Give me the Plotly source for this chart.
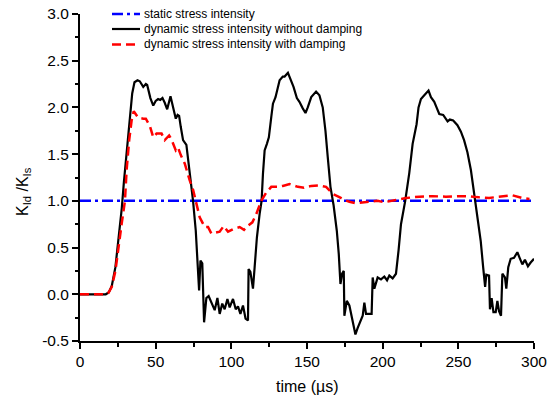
import plotly.graph_objects as go

# ---------------- data ----------------
static_t = [0, 300]
static_k = [1.0, 1.0]

nodamp_t = [0, 10, 17, 19, 21, 23.4, 25.7, 27.6, 29, 31, 33, 34.5, 36, 38, 39.5, 41.8, 43.5, 44.4,
            46.5, 48.4, 50, 51.6, 53, 54.5, 56, 57.6, 59.8, 61.5, 63.3, 64.5, 65.5, 66.6, 68.1, 70.3,
            72.5, 74.7, 76.5, 78.7, 79.6, 80.8, 82, 83.5, 85, 86.8, 89, 90.8, 92.3, 94, 95.6, 97.4,
            98.9, 101.1, 102.9, 104.4, 106, 107.7, 109.4, 111, 111.4, 112.6, 114.3, 115.4, 116.9,
            118.7, 120, 120.9, 122, 123.5, 124.8, 126.4, 127.5, 129.2, 130.8, 131.9, 134, 135.2,
            137.4, 138.9, 141.1, 143.3, 145, 147.2, 149, 150.5, 152.8, 156, 158.2, 160.4, 162.2,
            163.7, 165.5, 167.6, 169.7, 171, 172.1, 173.2, 174.3, 174.7, 176.3, 178, 179.6, 182,
            183.5, 185.7, 186.8, 187.9, 189, 192.7, 193.4, 194.5, 196.7, 198.9, 201.1, 202.9, 204.4,
            206.6, 208.8, 210.5, 212.1, 214.9, 217.6, 219.8, 220.9, 222.4, 223.7, 225.3, 227.5,
            230.3, 231.9, 234.1, 235.6, 237.4, 240, 241.4, 242.9, 244.4, 246.6, 249.4, 251.7, 253.8,
            256, 258.3, 260.4, 262.6, 264.8, 266.4, 267.7, 268.5, 270.3, 270.9, 272, 273.2, 274.7,
            275.8, 276.9, 278.2, 279.1, 280.8, 281.7, 283, 284.6, 286.8, 289, 290.5, 292.3, 294,
            296, 297.8, 300]
nodamp_k = [0, 0, 0.0, 0.02, 0.09, 0.29, 0.6, 0.92, 1.2, 1.55, 1.9, 2.15, 2.27, 2.29, 2.28, 2.22, 2.25, 2.24,
            2.1, 2.02, 2.07, 2.09, 2.08, 2.1, 2.05, 1.98, 2.12, 2.0, 1.88, 1.92, 1.91, 1.79, 1.65, 1.6,
            1.3, 1.0, 0.68, 0.04, 0.36, 0.33, -0.30, -0.04, -0.02, -0.09, -0.17, -0.04, -0.21, -0.10, -0.16, -0.05,
            -0.14, -0.05, -0.16, -0.13, -0.21, -0.12, -0.26, -0.28, 0.27, 0.24, 0.06, 0.29, 0.61,
            0.86, 1.0, 1.29, 1.54, 1.61, 1.68, 1.90, 2.04, 2.11, 2.20, 2.29, 2.33, 2.33,
            2.37, 2.31, 2.22, 2.10, 2.06, 1.99, 1.94, 2.0, 2.11, 2.17, 2.13, 2.0, 1.75,
            1.47, 1.15, 0.95, 0.68, 0.43, 0.11, 0.22, 0.25, -0.23, -0.07, -0.12, -0.25, -0.43,
            -0.36, -0.27, -0.23, -0.09, -0.21, -0.21, 0.18, 0.06, 0.18, 0.16, 0.19, 0.15, 0.20,
            0.17, 0.22, 0.47, 0.75, 1.0, 1.3, 1.61, 1.72, 1.82, 2.0, 2.09, 2.13,
            2.18, 2.11, 2.06, 2.0, 1.93, 1.92, 1.89, 1.85, 1.87, 1.86, 1.81, 1.74, 1.65,
            1.52, 1.33, 1.07, 0.82, 0.57, 0.29, 0.08, 0.21, 0.20, -0.16, -0.04, -0.19, -0.19,
            -0.07, -0.18, -0.23, 0.22, 0.18, 0.06, 0.29, 0.38, 0.39, 0.45, 0.39, 0.32, 0.37,
            0.30, 0.34, 0.38]

damp_t = [0, 17, 19, 21, 23.4, 25.7, 27.5, 29.7, 30.8, 32.5, 34.1, 35.5, 37, 38.5, 41.8, 43.5, 46.2,
          48.4, 50.6, 53.9, 56, 58.9, 60.4, 63.3, 64.8, 66.6, 69.2, 70.3, 72.5, 74.7, 77, 79.1, 82.4,
          84.6, 86.8, 89, 92.3, 94.9, 97.8, 101.5, 105.5, 108.4, 111, 113.9, 116.5, 119.8, 123.1,
          126.4, 130.8, 134, 138.5, 144, 148, 152.8, 158.2, 162.6, 167, 171.4, 174.7, 178, 182.4,
          187.9, 192, 196.7, 201.1, 205, 208.8, 215.4, 220, 224.2, 233, 241.8, 250.5, 257.1, 262,
          266, 270.3, 274.7, 280, 285.7, 292.3, 297]
damp_k = [0, 0, 0.02, 0.08, 0.25, 0.5, 0.75, 1.0, 1.33, 1.65, 1.86, 1.96, 1.92, 1.89, 1.88, 1.88, 1.80,
          1.68, 1.72, 1.72, 1.65, 1.70, 1.66, 1.54, 1.57, 1.49, 1.40, 1.33, 1.22, 1.12, 0.96, 0.825, 0.72,
          0.72, 0.65, 0.66, 0.67, 0.73, 0.67, 0.70, 0.72, 0.69, 0.735, 0.77, 0.86, 1.0, 1.09,
          1.15, 1.15, 1.16, 1.18, 1.15, 1.14, 1.16, 1.165, 1.15, 1.075, 1.04, 1.01, 0.99, 0.975,
          0.985, 0.99, 1.0, 0.985, 1.0, 1.01, 1.03, 1.04, 1.045, 1.05, 1.045, 1.05, 1.05, 1.04,
          1.035, 1.03, 1.04, 1.05, 1.06, 1.03, 1.02]

series_names = ["static stress intensity",
                "dynamic stress intensity without damping",
                "dynamic stress intensity with damping"]
x_ticks = [0, 50, 100, 150, 200, 250, 300]
y_ticks = [-0.5, 0.0, 0.5, 1.0, 1.5, 2.0, 2.5, 3.0]

# ---------------- styling ----------------
W, H = 548, 402
PL, PR, PT, PB = 80, 534, 14, 341          # plot area edges in window pixels
ML, MR, MT, MB = PL, W - PR, PT, H - PB
PW, PH = PR - PL, PB - PT
FONT = "Liberation Sans, Arial, sans-serif"

BLUE_DASH = "11px,4px,3px,4px"
RED_DASH = "9px,5px"
styles = [dict(color="#0000ff", width=2.5, dash=BLUE_DASH),
          dict(color="#000000", width=2.2, dash="solid"),
          dict(color="#ff0000", width=2.5, dash=RED_DASH)]


def px_x(p):
    return (p - PL) / PW


def px_y(p):
    return (PB - p) / PH


fig = go.Figure()
for (t, k), name, st in zip([(static_t, static_k), (nodamp_t, nodamp_k), (damp_t, damp_k)],
                            series_names, styles):
    fig.add_trace(go.Scatter(x=t, y=k, mode="lines", name=name, line=st, showlegend=False))

# compact legend (upper left)
legend_rows = [14, 29, 44.5]
shapes = []
annotations = []
for row, name, st in zip(legend_rows, series_names, styles):
    shapes.append(dict(type="line", xref="paper", yref="paper",
                       x0=px_x(112), x1=px_x(140), y0=px_y(row), y1=px_y(row),
                       line=dict(color=st["color"], width=st["width"], dash=st["dash"])))
    annotations.append(dict(text=name, xref="paper", yref="paper", x=px_x(142), y=px_y(row),
                            xanchor="left", yanchor="middle", showarrow=False,
                            font=dict(family=FONT, size=12, color="black")))

# axis titles
annotations.append(dict(text="K<sub>Id</sub> /K<sub>Is</sub>", textangle=-90,
                        xref="paper", yref="paper", x=px_x(23), y=px_y(192),
                        xanchor="center", yanchor="middle", showarrow=False,
                        font=dict(family=FONT, size=16, color="black")))
annotations.append(dict(text="time (\u00b5s)", xref="paper", yref="paper",
                        x=0.5, y=px_y(386), xanchor="center", yanchor="middle", showarrow=False,
                        font=dict(family=FONT, size=16, color="black")))

axis_common = dict(showgrid=False, zeroline=False, showline=True, linecolor="black", linewidth=2,
                   ticks="outside", ticklen=6, tickwidth=2, tickcolor="black",
                   tickfont=dict(family=FONT, size=15.5, color="black"), mirror=False,
                   ticklabeloverflow="allow")

fig.update_layout(
    width=W, height=H,
    margin=dict(l=ML, r=MR, t=MT, b=MB, autoexpand=False),
    paper_bgcolor="white", plot_bgcolor="white",
    showlegend=False, hovermode=False,
    shapes=shapes, annotations=annotations,
    xaxis=dict(range=[0, 300], tickvals=x_ticks, ticktext=[str(v) for v in x_ticks],
               minor=dict(dtick=25, ticks="outside", ticklen=3.5, tickwidth=2, tickcolor="black"),
               ticklabelstandoff=-1,
               **axis_common),
    yaxis=dict(range=[-0.5, 3.0], tickvals=y_ticks, ticktext=[f"{v:.1f}" for v in y_ticks],
               minor=dict(dtick=0.25, ticks="outside", ticklen=3.5, tickwidth=2, tickcolor="black"),
               **axis_common),
)

# remove the browser's default 8px page margin so the figure fills the window
fig.write_html("out.html", config={"displayModeBar": False, "staticPlot": True},
               post_script="document.body.style.margin='0';")
